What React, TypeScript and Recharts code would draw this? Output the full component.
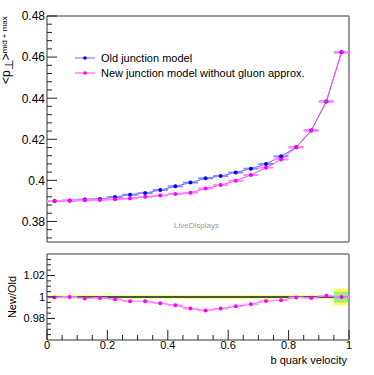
import React from "react";
import {
  ComposedChart,
  Line,
  Scatter,
  ErrorBar,
  Area,
  XAxis,
  YAxis,
  ReferenceArea,
  ReferenceLine,
  Label,
} from "recharts";

const FONT = "'Liberation Sans', Arial, Helvetica, sans-serif";

// bin centres of the b quark velocity histogram (20 bins)
const binCenters = [
  0.025, 0.075, 0.125, 0.175, 0.225, 0.275, 0.325, 0.375, 0.425, 0.475,
  0.525, 0.575, 0.625, 0.675, 0.725, 0.775, 0.825, 0.875, 0.925, 0.975,
];
const binEdges = [
  0, 0.05, 0.1, 0.15, 0.2, 0.25, 0.3, 0.35, 0.4, 0.45, 0.5,
  0.55, 0.6, 0.65, 0.7, 0.75, 0.8, 0.85, 0.9, 0.95, 1,
];
const binHalfWidth = 0.025;

const oldModel = [
  0.3899, 0.3902, 0.3907, 0.3909, 0.3919, 0.393, 0.3938, 0.3953, 0.3971, 0.3989,
  0.401, 0.4021, 0.4038, 0.4057, 0.408, 0.4117, 0.4161, 0.4243, 0.4384, 0.4623,
];
const newModel = [
  0.3899, 0.3901, 0.3903, 0.3905, 0.3908, 0.3912, 0.392, 0.3926, 0.3934, 0.394,
  0.396, 0.3977, 0.3998, 0.4026, 0.4062, 0.4102, 0.4161, 0.4243, 0.4384, 0.4623,
];
const ratio = [
  0.9996, 1.0, 0.9987, 0.999, 0.998, 0.996, 0.996, 0.9941, 0.9923, 0.9892,
  0.9874, 0.9892, 0.9913, 0.9932, 0.9963, 0.9969, 0.9996, 0.999, 1.0012, 1.0,
];
// relative uncertainty band of the old model (outer = yellow, inner = green)
const bandOuter = [
  0.0016, 0.0016, 0.0016, 0.0016, 0.0016, 0.0016, 0.0016, 0.0016, 0.0016, 0.0016,
  0.0016, 0.0016, 0.0016, 0.0016, 0.0016, 0.0016, 0.0016, 0.0016, 0.0016, 0.0077,
];
const bandInner = [
  0.0008, 0.0008, 0.0008, 0.0008, 0.0008, 0.0008, 0.0008, 0.0008, 0.0008, 0.0008,
  0.0008, 0.0008, 0.0008, 0.0008, 0.0008, 0.0008, 0.0008, 0.0008, 0.0008, 0.005,
];

const seriesNames = ["Old junction model", "New junction model without gluon approx."];
const seriesLine = ["#6a6aff", "#ff44ff"];
const seriesDot = ["#0000ff", "#ff00ff"];

const topYTicks = [
  0.372, 0.376, 0.38, 0.384, 0.388, 0.392, 0.396, 0.4, 0.404, 0.408, 0.412,
  0.416, 0.42, 0.424, 0.428, 0.432, 0.436, 0.44, 0.444, 0.448, 0.452, 0.456,
  0.46, 0.464, 0.468, 0.472, 0.476, 0.48,
];
const topYMajor = [0.38, 0.4, 0.42, 0.44, 0.46, 0.48];
const ratioYTicks = [
  0.965, 0.97, 0.975, 0.98, 0.985, 0.99, 0.995, 1, 1.005, 1.01, 1.015, 1.02,
  1.025, 1.03, 1.035,
];
const ratioYMajor = [0.98, 1, 1.02];
const xTicks = [
  0, 0.05, 0.1, 0.15, 0.2, 0.25, 0.3, 0.35, 0.4, 0.45, 0.5,
  0.55, 0.6, 0.65, 0.7, 0.75, 0.8, 0.85, 0.9, 0.95, 1,
];
const xMajor = [0, 0.2, 0.4, 0.6, 0.8, 1];

const topData = binCenters.map((x, i) => ({
  x,
  old: oldModel[i],
  nw: newModel[i],
  xErr: binHalfWidth,
}));
const ratioData = binCenters.map((x, i) => ({ x, r: ratio[i], xErr: binHalfWidth }));
const bandData = binEdges.map((x, i) => {
  const k = Math.min(i, binCenters.length - 1);
  return {
    x,
    outer: [1 - bandOuter[k], 1 + bandOuter[k]],
    inner: [1 - bandInner[k], 1 + bandInner[k]],
  };
});

const isMajor = (v: number, majors: number[]) =>
  majors.some((m) => Math.abs(m - v) < 1e-9);
const fmt = (v: number) => String(Math.round(v * 1000) / 1000);

function makeYTick(majors: number[], majorLen: number, minorLen: number, fontSize: number) {
  return (props: any) => {
    const { x, y, payload } = props;
    const major = isMajor(payload.value, majors);
    return (
      <g>
        <line x1={x} x2={x + (major ? majorLen : minorLen)} y1={y} y2={y} stroke="#222" />
        {major && (
          <text
            x={x - 2}
            y={y + fontSize * 0.36}
            textAnchor="end"
            fontSize={fontSize}
            fontFamily={FONT}
            fill="#000"
          >
            {fmt(payload.value)}
          </text>
        )}
      </g>
    );
  };
}

function makeXTick(majorLen: number, minorLen: number, labels: boolean) {
  return (props: any) => {
    const { x, y, payload } = props;
    const major = isMajor(payload.value, xMajor);
    return (
      <g>
        <line x1={x} x2={x} y1={y} y2={y - (major ? majorLen : minorLen)} stroke="#222" />
        {labels && major && (
          <text x={x} y={y + 9} textAnchor="middle" fontSize={11} fontFamily={FONT} fill="#000">
            {fmt(payload.value)}
          </text>
        )}
      </g>
    );
  };
}

const dotShape = (fill: string) => (props: any) =>
  <circle cx={props.cx} cy={props.cy} r={2} fill={fill} />;

function LegendBox() {
  return (
    <svg width={300} height={34} style={{ position: "absolute", left: 70, top: 48 }}>
      {seriesNames.map((name, i) => (
        <g key={name} transform={`translate(0, ${i * 15})`}>
          <line x1={5} x2={25} y1={10} y2={10} stroke={seriesLine[i]} />
          <circle cx={15} cy={10} r={1.8} fill={seriesDot[i]} />
          <text x={31} y={14} fontSize={11} fontFamily={FONT} fill="#000">
            {name}
          </text>
        </g>
      ))}
    </svg>
  );
}

export default function App() {
  return (
    <div style={{ position: "absolute", left: 0, top: 0, width: 374, height: 375, background: "#fff" }}>
      <div style={{ position: "absolute", left: 0, top: 0 }}>
        <ComposedChart
          width={374}
          height={250}
          data={topData}
          margin={{ top: 16, right: 25, left: 0, bottom: 8 }}
        >
          <XAxis
            dataKey="x"
            type="number"
            domain={[0, 1]}
            ticks={xTicks}
            interval={0}
            height={0}
            tickSize={0}
            tickMargin={0}
            tickLine={false}
            axisLine={false}
            tick={makeXTick(6, 3, false)}
          />
          <YAxis
            type="number"
            domain={[0.37, 0.48]}
            allowDataOverflow
            ticks={topYTicks}
            interval={0}
            width={47}
            tickSize={0}
            tickMargin={0}
            tickLine={false}
            axisLine={false}
            tick={makeYTick(topYMajor, 10, 5, 12)}
          >
            <Label
              content={() => (
                <text transform="translate(10, 84) rotate(-90)" fontSize={12} fontFamily={FONT} fill="#000">
                  <tspan>{"<p"}</tspan>
                  <tspan dy={3}>⊥</tspan>
                  <tspan dy={-3}>{">"}</tspan>
                  <tspan dy={-3} fontSize={8}>mid + max</tspan>
                </text>
              )}
            />
          </YAxis>
          <ReferenceArea x1={0} x2={1} y1={0.37} y2={0.48} fill="none" stroke="#333" />
          <ReferenceLine x={1} stroke="#999" strokeWidth={2} />
          <Line
            dataKey="old"
            name={seriesNames[0]}
            stroke={seriesLine[0]}
            dot={false}
            isAnimationActive={false}
          />
          <Scatter dataKey="old" shape={dotShape(seriesDot[0])} isAnimationActive={false}>
            <ErrorBar dataKey="xErr" direction="x" width={0} stroke="#8a8aff" strokeWidth={2} />
          </Scatter>
          <Line
            dataKey="nw"
            name={seriesNames[1]}
            stroke={seriesLine[1]}
            dot={false}
            isAnimationActive={false}
          />
          <Scatter dataKey="nw" shape={dotShape(seriesDot[1])} isAnimationActive={false}>
            <ErrorBar dataKey="xErr" direction="x" width={0} stroke="#ff88ff" strokeWidth={2} />
          </Scatter>
        </ComposedChart>
      </div>

      <LegendBox />

      <div
        style={{
          position: "absolute",
          left: 174,
          top: 221,
          fontSize: 8,
          lineHeight: "9px",
          color: "#999",
          fontFamily: FONT,
        }}
      >
        LiveDisplays
      </div>

      <div style={{ position: "absolute", left: 0, top: 250 }}>
        <ComposedChart
          width={374}
          height={125}
          data={ratioData}
          margin={{ top: 4, right: 25, left: 0, bottom: 0 }}
        >
          <XAxis
            dataKey="x"
            type="number"
            domain={[0, 1]}
            ticks={xTicks}
            interval={0}
            height={35}
            tickSize={0}
            tickMargin={0}
            tickLine={false}
            axisLine={false}
            tick={makeXTick(10, 5, true)}
          >
            <Label
              content={() => (
                <text x={347} y={114} textAnchor="end" fontSize={11} fontFamily={FONT} fill="#000">
                  b quark velocity
                </text>
              )}
            />
          </XAxis>
          <YAxis
            type="number"
            domain={[0.96, 1.04]}
            allowDataOverflow
            ticks={ratioYTicks}
            interval={0}
            width={47}
            tickSize={0}
            tickMargin={0}
            tickLine={false}
            axisLine={false}
            tick={makeYTick(ratioYMajor, 8, 4, 11)}
          >
            <Label
              content={() => (
                <text
                  transform="translate(16, 47) rotate(-90)"
                  textAnchor="middle"
                  fontSize={11}
                  fontFamily={FONT}
                  fill="#000"
                >
                  New/Old
                </text>
              )}
            />
          </YAxis>
          <Area
            data={bandData}
            dataKey="outer"
            type="stepAfter"
            stroke="none"
            fill="#ffff55"
            fillOpacity={1}
            isAnimationActive={false}
          />
          <Area
            data={bandData}
            dataKey="inner"
            type="stepAfter"
            stroke="none"
            fill="#99f07a"
            fillOpacity={1}
            isAnimationActive={false}
          />
          <ReferenceLine y={1} stroke="#1c2a1c" strokeWidth={1.5} />
          <ReferenceArea x1={0} x2={1} y1={0.96} y2={1.04} fill="none" stroke="#333" />
          <ReferenceLine x={1} stroke="#999" strokeWidth={2} />
          <Line dataKey="r" stroke="#ff55ff" dot={false} isAnimationActive={false} />
          <Scatter dataKey="r" shape={dotShape("#ff00ff")} isAnimationActive={false}>
            <ErrorBar dataKey="xErr" direction="x" width={0} stroke="#ff99ff" strokeWidth={1.5} />
          </Scatter>
        </ComposedChart>
      </div>
    </div>
  );
}
